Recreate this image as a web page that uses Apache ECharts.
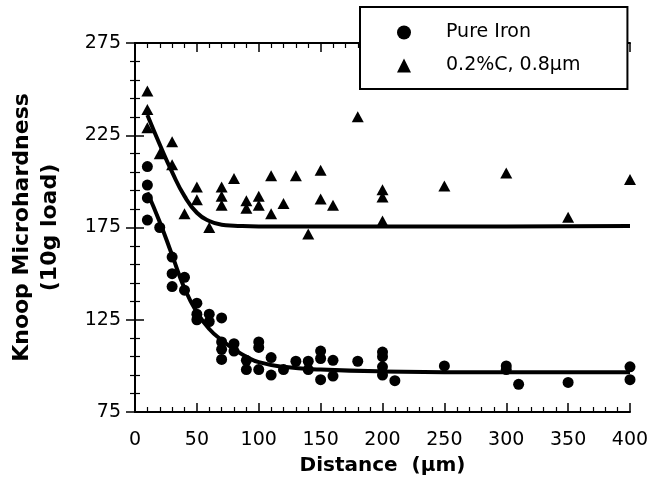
<!DOCTYPE html>
<html>
<head>
<meta charset="utf-8">
<script src="https://cdn.jsdelivr.net/npm/echarts@6/dist/echarts.min.js"></script>
<style>html,body{margin:0;padding:0;background:#fff}#c{width:667px;height:487px}</style>
</head>
<body>
<div id="c"></div>
<script>
// Pure Iron measurements
const pureIronX = [10,10,10,10,20,30,30,40,30,40,50,50,50,60,60,70,70,70,70,80,80,90,90,100,100,100,110,110,120,130,140,140,150,150,150,160,160,180,200,200,200,200,210,250,300,300,310,350,400,400];
const pureIronY = [208,198,191,179,175,159,150,148,143,141,134,128,125,128,124,126,113,109,103.5,112,108,103,98,113,110,98,104.5,95,98,102.5,102.5,98,108,104,92.5,103,94.5,102.5,107.5,105,99.5,95,92,100,100,98,90,91,99.5,92.5];
// 0.2%C, 0.8um measurements
const carbonX = [10,10,10,20,30,30,40,50,50,60,70,70,70,80,90,90,100,100,110,110,120,130,140,150,150,160,180,200,200,200,250,300,350,400];
const carbonY = [249,239,229,215,221.5,209,182.5,197,190,175,197,192,187,201.5,189.5,185.5,192,187,203,182.5,188,203,171.5,206,190.5,187,235,195.5,191.5,178.5,197.5,204.5,180.5,201];
// fitted curves
const pureFitX = [10,20,30,40,50,60,70,80,90,100,120,150,200,300,400];
const pureFitY = [194,178,160,142,129,120,114,109,105,102,99.5,98,97,96.5,96.5];
const carbonFitX = [10,20,30,40,50,60,70,80,100,200,300,400];
const carbonFitY = [236,220,205,192,183,178.5,176.5,176,175.5,175.5,175.5,175.8];
const seriesNames = ['Pure Iron', '0.2%C, 0.8\u00b5m'];
const xTitle = 'Distance  (\u00b5m)';
const yTitle = 'Knoop Microhardness\n(10g load)';

const zip = (xs, ys) => xs.map((x, i) => [x, ys[i]]);
const FONT = 'DejaVu Sans';

const axisLine = {show: true, lineStyle: {color: '#000', width: 2}};
const tick = {show: true, inside: true, length: 9, lineStyle: {color: '#000', width: 1.5}};
const minor = {show: true, splitNumber: 5, length: 5, lineStyle: {color: '#000', width: 1.2}};

const chart = echarts.init(document.getElementById('c'), null, {renderer: 'canvas'});
chart.setOption({
  backgroundColor: '#fff',
  animation: false,
  textStyle: {fontFamily: FONT, color: '#000'},
  grid: {left: 132, right: 37, top: 43, bottom: 75},
  legend: {
    orient: 'vertical',
    left: 360, top: 7,
    backgroundColor: '#fff',
    borderColor: '#000', borderWidth: 2,
    padding: [16, 47, 14, 37],
    itemWidth: 14, itemHeight: 14, itemGap: 14,
    z: 10,
    textStyle: {fontFamily: FONT, fontSize: 19, color: '#000', padding: [0, 0, 0, 30]},
    data: [
      {name: seriesNames[0], icon: 'circle', itemStyle: {color: '#000', opacity: 1}},
      {name: seriesNames[1], icon: 'triangle', itemStyle: {color: '#000', opacity: 1}}
    ]
  },
  xAxis: [{
    type: 'value', min: 0, max: 400, interval: 50,
    axisLine, axisTick: tick, minorTick: minor, splitLine: {show: false},
    axisLabel: {fontFamily: FONT, fontSize: 19, color: '#000', margin: 19},
    name: xTitle, nameLocation: 'middle', nameGap: 44,
    nameTextStyle: {fontFamily: FONT, fontSize: 20, fontWeight: 'bold', color: '#000'}
  }, {
    type: 'value', position: 'top', min: 0, max: 400, interval: 50,
    axisLine, axisTick: tick, minorTick: minor, splitLine: {show: false},
    axisLabel: {show: false}
  }],
  yAxis: [{
    type: 'value', min: 75, max: 275, interval: 50,
    axisLine, axisTick: tick, minorTick: minor, splitLine: {show: false},
    axisLabel: {fontFamily: FONT, fontSize: 19, color: '#000', margin: 14},
    name: yTitle, nameLocation: 'middle', nameGap: 71, nameRotate: 90,
    nameTextStyle: {fontFamily: FONT, fontSize: 22, fontWeight: 'bold', color: '#000', lineHeight: 28, align: 'center'}
  }, {
    type: 'value', position: 'right', min: 75, max: 275, interval: 50,
    axisLine, axisTick: tick, minorTick: minor, splitLine: {show: false},
    axisLabel: {show: false}
  }],
  series: [
    {name: seriesNames[0], type: 'scatter', symbol: 'circle', symbolSize: 11,
     itemStyle: {color: '#000', opacity: 1}, data: zip(pureIronX, pureIronY), z: 3},
    {name: seriesNames[1], type: 'scatter', symbol: 'triangle', symbolSize: [12, 11],
     itemStyle: {color: '#000', opacity: 1}, data: zip(carbonX, carbonY), z: 3},
    {name: 'pureFit', type: 'line', showSymbol: false, symbol: 'none', smooth: 0.5,
     lineStyle: {color: '#000', width: 4}, data: zip(pureFitX, pureFitY), silent: true, z: 2},
    {name: 'carbonFit', type: 'line', showSymbol: false, symbol: 'none', smooth: 0.5,
     lineStyle: {color: '#000', width: 4}, data: zip(carbonFitX, carbonFitY), silent: true, z: 2}
  ]
});
</script>
</body>
</html>
